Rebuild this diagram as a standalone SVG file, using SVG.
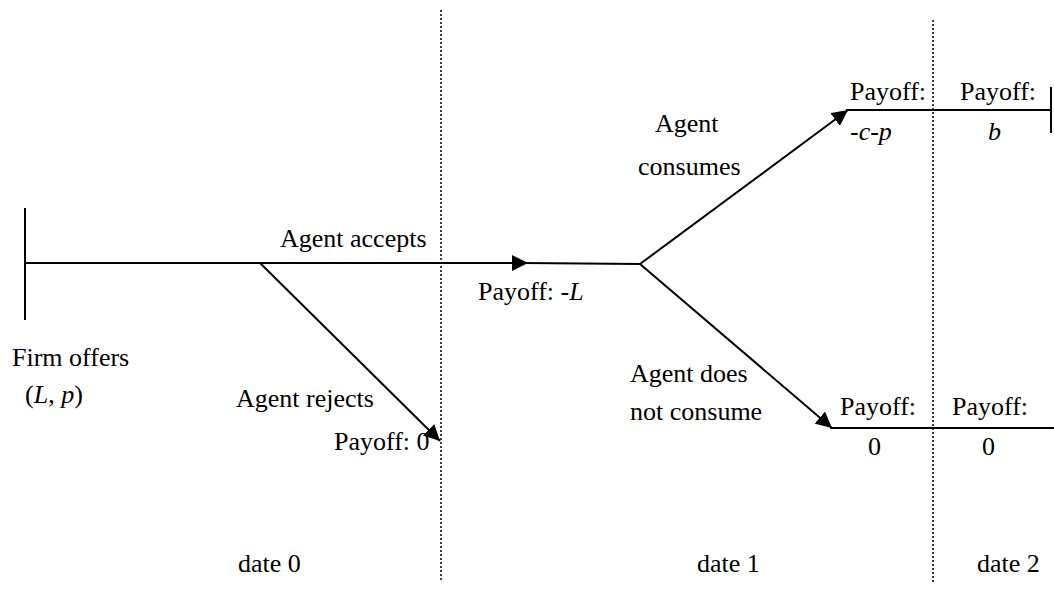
<svg xmlns="http://www.w3.org/2000/svg" width="1054" height="590" viewBox="0 0 1054 590">
  <style>
    text { font-family: "Liberation Serif", "Times New Roman", serif; font-size: 26px; fill: #000; }
    .it { font-style: italic; }
    .edge { stroke: #000; stroke-width: 2; fill: none; }
    .date { stroke: #000; stroke-width: 1.5; stroke-dasharray: 2 2; fill: none; }
  </style>
  <defs>
    <marker id="arrow" markerUnits="userSpaceOnUse" markerWidth="16" markerHeight="16" viewBox="0 0 16 16" refX="16" refY="8" orient="auto">
      <path d="M0,0 L16,8 L0,16 Z" fill="#000"/>
    </marker>
  </defs>

  <rect width="1054" height="590" fill="#fff"/>

  <g font-family="Liberation Serif, Times New Roman, serif">
  <!-- date separators -->
  <g id="dates">
    <line class="date" x1="441" y1="10" x2="441" y2="582"/>
    <line class="date" x1="933" y1="20" x2="933" y2="582"/>
    <text x="238" y="572">date 0</text>
    <text x="697" y="572">date 1</text>
    <text x="977" y="572">date 2</text>
  </g>

  <!-- connectors -->
  <g id="connectors">
    <line class="edge" x1="25" y1="263" x2="528" y2="263" marker-end="url(#arrow)"/>
    <line class="edge" x1="524" y1="263" x2="640" y2="264"/>
    <line class="edge" x1="260" y1="263" x2="440" y2="441" marker-end="url(#arrow)"/>
    <line class="edge" x1="640" y1="264" x2="848" y2="110" marker-end="url(#arrow)"/>
    <line class="edge" x1="640" y1="264" x2="832" y2="428" marker-end="url(#arrow)"/>
    <line class="edge" x1="846" y1="110" x2="1052" y2="110"/>
    <line class="edge" x1="830" y1="428" x2="1054" y2="428"/>
  </g>

  <!-- root: firm offer -->
  <g id="firm">
    <line class="edge" x1="25" y1="208" x2="25" y2="320"/>
    <text x="12" y="366">Firm offers</text>
    <text x="25" y="403">(<tspan class="it">L</tspan>, <tspan class="it">p</tspan>)</text>
  </g>

  <g id="accept">
    <text x="280" y="247">Agent accepts</text>
    <text x="478" y="300">Payoff: <tspan class="it">-L</tspan></text>
  </g>

  <g id="reject">
    <text x="236" y="407">Agent rejects</text>
    <text x="334" y="450">Payoff: 0</text>
  </g>

  <g id="consume">
    <text x="655" y="132">Agent</text>
    <text x="638" y="175">consumes</text>
    <text x="850" y="100">Payoff:</text>
    <text x="850" y="140" class="it">-c-p</text>
    <text x="960" y="100">Payoff:</text>
    <text x="988" y="140" class="it">b</text>
    <line class="edge" x1="1051" y1="87" x2="1051" y2="133"/>
  </g>

  <g id="not-consume">
    <text x="630" y="382">Agent does</text>
    <text x="630" y="420">not consume</text>
    <text x="840" y="415">Payoff:</text>
    <text x="952" y="415">Payoff:</text>
    <text x="868" y="455">0</text>
    <text x="982" y="455">0</text>
  </g>
  </g>
</svg>
